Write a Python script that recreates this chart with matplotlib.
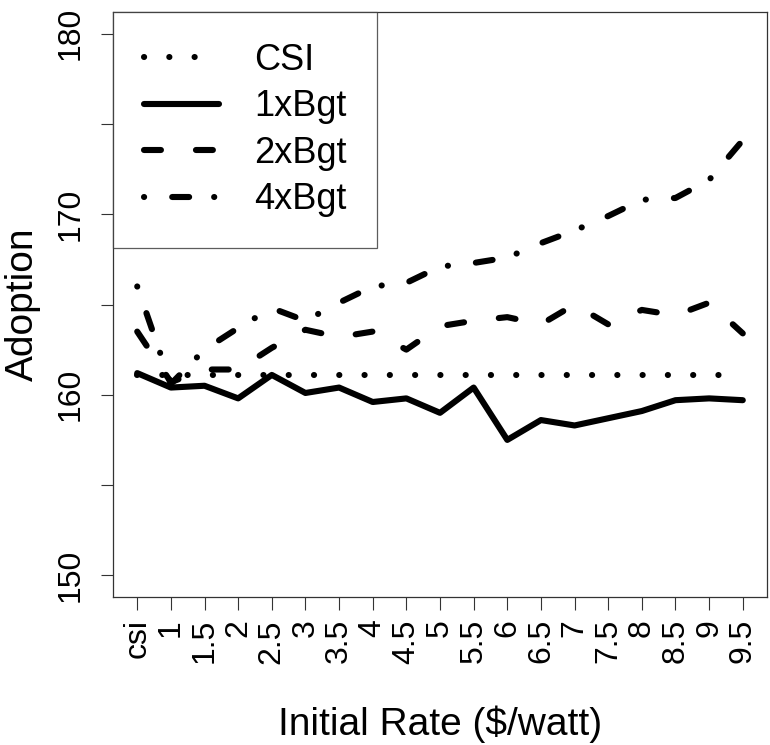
import matplotlib
matplotlib.use("Agg")
import matplotlib.pyplot as plt
import numpy as np

plt.rcParams['font.family'] = ['Liberation Sans', 'DejaVu Sans']
plt.rcParams['lines.scale_dashes'] = False

categories = ['csi', '1', '1.5', '2', '2.5', '3', '3.5', '4', '4.5', '5',
              '5.5', '6', '6.5', '7', '7.5', '8', '8.5', '9', '9.5']
csi_vals = [161.1, 161.1, 161.1, 161.1, 161.1, 161.1, 161.1, 161.1, 161.1, 161.1,
            161.1, 161.1, 161.1, 161.1, 161.1, 161.1, 161.1, 161.1, 161.1]
bgt1 = [161.2, 160.4, 160.5, 159.8, 161.1, 160.1, 160.4, 159.6, 159.8, 159.0,
        160.4, 157.5, 158.6, 158.3, 158.7, 159.1, 159.7, 159.8, 159.7]
bgt2 = [163.5, 160.7, 161.4, 161.4, 162.6, 163.6, 163.2, 163.5, 162.5, 163.8,
        164.1, 164.3, 163.9, 165.0, 163.9, 164.7, 164.4, 165.1, 163.4]
bgt4 = [166.0, 160.6, 162.5, 163.7, 164.8, 164.1, 165.1, 166.0, 166.2, 167.1,
        167.3, 167.6, 168.4, 169.1, 169.9, 170.8, 170.9, 171.9, 174.1]
series_labels = ['CSI', '1xBgt', '2xBgt', '4xBgt']
y_ticks = [150, 155, 160, 165, 170, 175, 180]
y_ticklabels = ['150', '', '160', '', '170', '', '180']

W, H = 770, 745
fig = plt.figure(figsize=(W / 100, H / 100), dpi=100)
ax = fig.add_axes([113 / W, (H - 597) / H, (767 - 113) / W, (597 - 12) / H])

x = np.arange(1, len(categories) + 1)
lw = 4.4
common = dict(color='black', lw=lw, solid_capstyle='round', dash_capstyle='round',
              solid_joinstyle='round', dash_joinstyle='round')
l_csi, = ax.plot(x, csi_vals, **common, label=series_labels[0])
l_csi.set_dashes((0.1, 18.1))
l1, = ax.plot(x, bgt1, **common, label=series_labels[1])
l2, = ax.plot(x, bgt2, **common, label=series_labels[2])
l2.set_dashes((12.2, 25.2))
l4, = ax.plot(x, bgt4, **common, label=series_labels[3])
l4.set_dashes((0.1, 20.2, 12.2, 18.0))

n = len(categories)
ax.set_xlim(1 - 0.04 * (n - 1), n + 0.04 * (n - 1))
ax.set_ylim(150 - 0.04 * 30, 180 + 0.04 * 30)

ax.set_xticks(x)
ax.set_xticklabels(categories, rotation=90, fontsize=23, va='top', ha='center')
ax.set_yticks(y_ticks)
ax.set_yticklabels(y_ticklabels, rotation=90, fontsize=23, va='center')
ax.tick_params(axis='both', length=9, width=0.8, color='#333333')
ax.tick_params(axis='x', pad=7)
ax.tick_params(axis='y', pad=11)
for s in ax.spines.values():
    s.set_color('#333333')
    s.set_linewidth(0.9)

ax.set_xlabel('Initial Rate ($/watt)', fontsize=28, labelpad=30)
ax.set_ylabel('Adoption', fontsize=28, labelpad=10)

leg = ax.legend(loc='upper left', bbox_to_anchor=(0, 1), borderaxespad=0,
                fontsize=26, frameon=True, fancybox=False, edgecolor='#333333',
                handlelength=2.08, handletextpad=0.97, borderpad=0.85,
                labelspacing=0.32)
leg.get_frame().set_linewidth(0.9)

fig.savefig('out.png', dpi=100)
